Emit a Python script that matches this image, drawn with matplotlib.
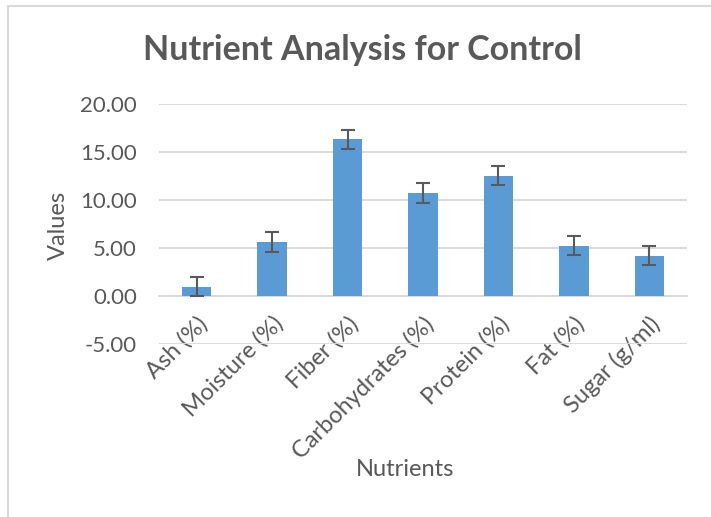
import matplotlib
matplotlib.use("Agg")
import matplotlib.pyplot as plt
from matplotlib.patches import Rectangle

categories = ["Ash (%)", "Moisture (%)", "Fiber (%)", "Carbohydrates (%)",
              "Protein (%)", "Fat (%)", "Sugar (g/ml)"]
values = [0.95, 5.63, 16.33, 10.72, 12.53, 5.23, 4.20]
errors = [1.0, 1.03, 1.0, 1.0, 1.0, 1.0, 1.0]
yticks = [-5, 0, 5, 10, 15, 20]

plt.rcParams['font.family'] = ['Lato', 'DejaVu Sans']
W, H = 711, 517
fig = plt.figure(figsize=(W/100, H/100), dpi=100)

# chart border
fig.patches.append(Rectangle((8/W, -0.1), 1.2, 1 - 6/H + 0.1, transform=fig.transFigure,
                             fill=False, edgecolor='#D9D9D9', linewidth=1.5))

ax = fig.add_axes([159/W, 1 - 344/H, (687-159)/W, (344-104)/H])
x = list(range(len(categories)))
ax.bar(x, values, width=0.39, color='#5B9BD5', zorder=3,
       yerr=errors, error_kw=dict(ecolor='#595959', elinewidth=1.5, capsize=5, capthick=1.5))
ax.set_xlim(-0.5, len(categories) - 0.5)
ax.set_ylim(-5, 20)
ax.set_yticks(yticks)
ax.set_yticklabels([f"{v:.2f}" for v in yticks], fontsize=16, color='#595959')
ax.grid(axis='y', color='#D9D9D9', linewidth=1.3, zorder=0)
ax.tick_params(axis='both', length=0)
ax.tick_params(axis='y', pad=16)
for s in ['top', 'right', 'left']:
    ax.spines[s].set_visible(False)
ax.spines['bottom'].set_position(('data', 0))
ax.spines['bottom'].set_color('#D9D9D9')
ax.spines['bottom'].set_linewidth(1.3)
ax.set_xticks(x)
ax.set_xticklabels(categories, rotation=45, ha='right', rotation_mode='anchor',
                   fontsize=17, color='#595959')
ax.tick_params(axis='x', pad=12)

fig.text(362/W, 1 - 50/H, "Nutrient Analysis for Control", ha='center', va='center',
         fontsize=24.5, fontweight='bold', color='#595959')
fig.text(58/W, 1 - 225/H, "Values", rotation=90, ha='center', va='center',
         fontsize=17, color='#595959')
fig.text(405/W, 1 - 470/H, "Nutrients", ha='center', va='center',
         fontsize=17, color='#595959')

fig.savefig("out.png", dpi=100)
